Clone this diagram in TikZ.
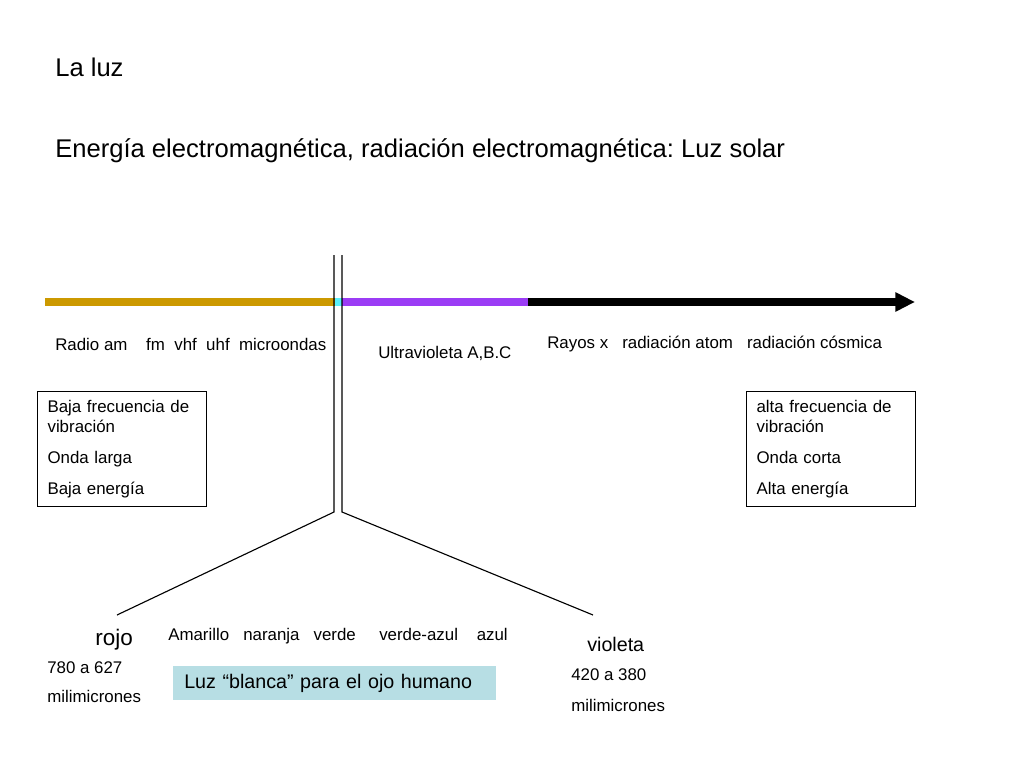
\documentclass[tikz,border=0pt]{standalone}
\usepackage{fontspec}
\setmainfont{Liberation Sans}
\usepackage[dvipsnames]{xcolor}
\usepackage{tikz}
\usetikzlibrary{arrows.meta}
\definecolor{radiogold}{RGB}{204,153,0}
\definecolor{uvpurple}{RGB}{155,60,245}
\definecolor{visiblecyan}{RGB}{90,240,250}
\definecolor{blancafill}{RGB}{183,222,228}
\frenchspacing

\begin{document}
\begin{tikzpicture}[x=0.025cm, y=-0.025cm, font=\fontsize{12}{14.4}\selectfont,
  lbl/.style={anchor=base west, inner sep=0pt},
  bigtxt/.style={font=\fontsize{18.2}{21.6}\selectfont},
  bar/.style={line width=5.5pt},
  infobox/.style={draw, line width=0.8pt, anchor=north west, align=left,
    text width=3.725cm, minimum width=4.225cm, minimum height=2.875cm, inner xsep=0.25cm}]
  \useasboundingbox (0,0) rectangle (1024,768);

  \node[lbl, bigtxt] (titulo) at (55,77) {La luz};
  \node[lbl, bigtxt] (subtitulo) at (55,157) {Energía electromagnética, radiación electromagnética: Luz solar};

  \coordinate (inicio) at (45,302);
  \coordinate (visA) at (335,302);
  \coordinate (visB) at (342,302);
  \coordinate (uvfin) at (528,302);
  \coordinate (fin) at (915,302);
  \draw[bar, radiogold] (inicio) -- (visA);
  \draw[bar, visiblecyan] (visA) -- (visB);
  \draw[bar, uvpurple] (visB) -- (uvfin);
  \draw[line width=5pt, -{Triangle[length=14pt, width=13pt]}] (uvfin) -- (fin);

  \coordinate (izqtop) at (334,255);
  \coordinate (izqbot) at (334,512);
  \coordinate (dertop) at (342,255);
  \coordinate (derbot) at (342,512);
  \coordinate (rojopie) at (117,615);
  \coordinate (violetapie) at (593,615);
  \draw[line width=0.8pt] (izqtop) -- (izqbot) -- (rojopie);
  \draw[line width=0.8pt] (dertop) -- (derbot) -- (violetapie);

  \node[lbl] (radio) at (55,350) {Radio am~~~~fm~~vhf~~uhf~~microondas};
  \node[lbl] (ultra) at (378,358) {Ultravioleta A,B.C};
  \node[lbl] (rayos) at (547,348) {Rayos x~~~radiación atom~~~radiación cósmica};

  \node[infobox] (baja) at (37,391) {Baja frecuencia de\\vibración\\[7.6pt]Onda larga\\[7.6pt]Baja energía};
  \node[infobox] (alta) at (746,391) {alta frecuencia de\\vibración\\[7.6pt]Onda corta\\[7.6pt]Alta energía};

  \node[lbl, font=\fontsize{16}{19}\selectfont] (rojo) at (95,645) {rojo};
  \node[lbl] (colores) at (168,640) {Amarillo~~~naranja~~~verde~~~~~verde-azul~~~~azul};
  \node[lbl, font=\fontsize{14}{17}\selectfont] (violeta) at (587,651) {violeta};
  \node[lbl] (rojonm) at (47,673) {780 a 627};
  \node[lbl] (rojounid) at (47,702) {milimicrones};
  \node[lbl] (violetanm) at (571,680) {420 a 380};
  \node[lbl] (violetaunid) at (571,711) {milimicrones};

  \node[fill=blancafill, anchor=north west, align=left, text width=7.525cm,
    minimum width=8.075cm, minimum height=0.85cm, inner xsep=0.275cm, inner ysep=0pt,
    font=\fontsize{14}{17}\selectfont] (blanca) at (173,666) {Luz “blanca” para el ojo humano};
\end{tikzpicture}
\end{document}
